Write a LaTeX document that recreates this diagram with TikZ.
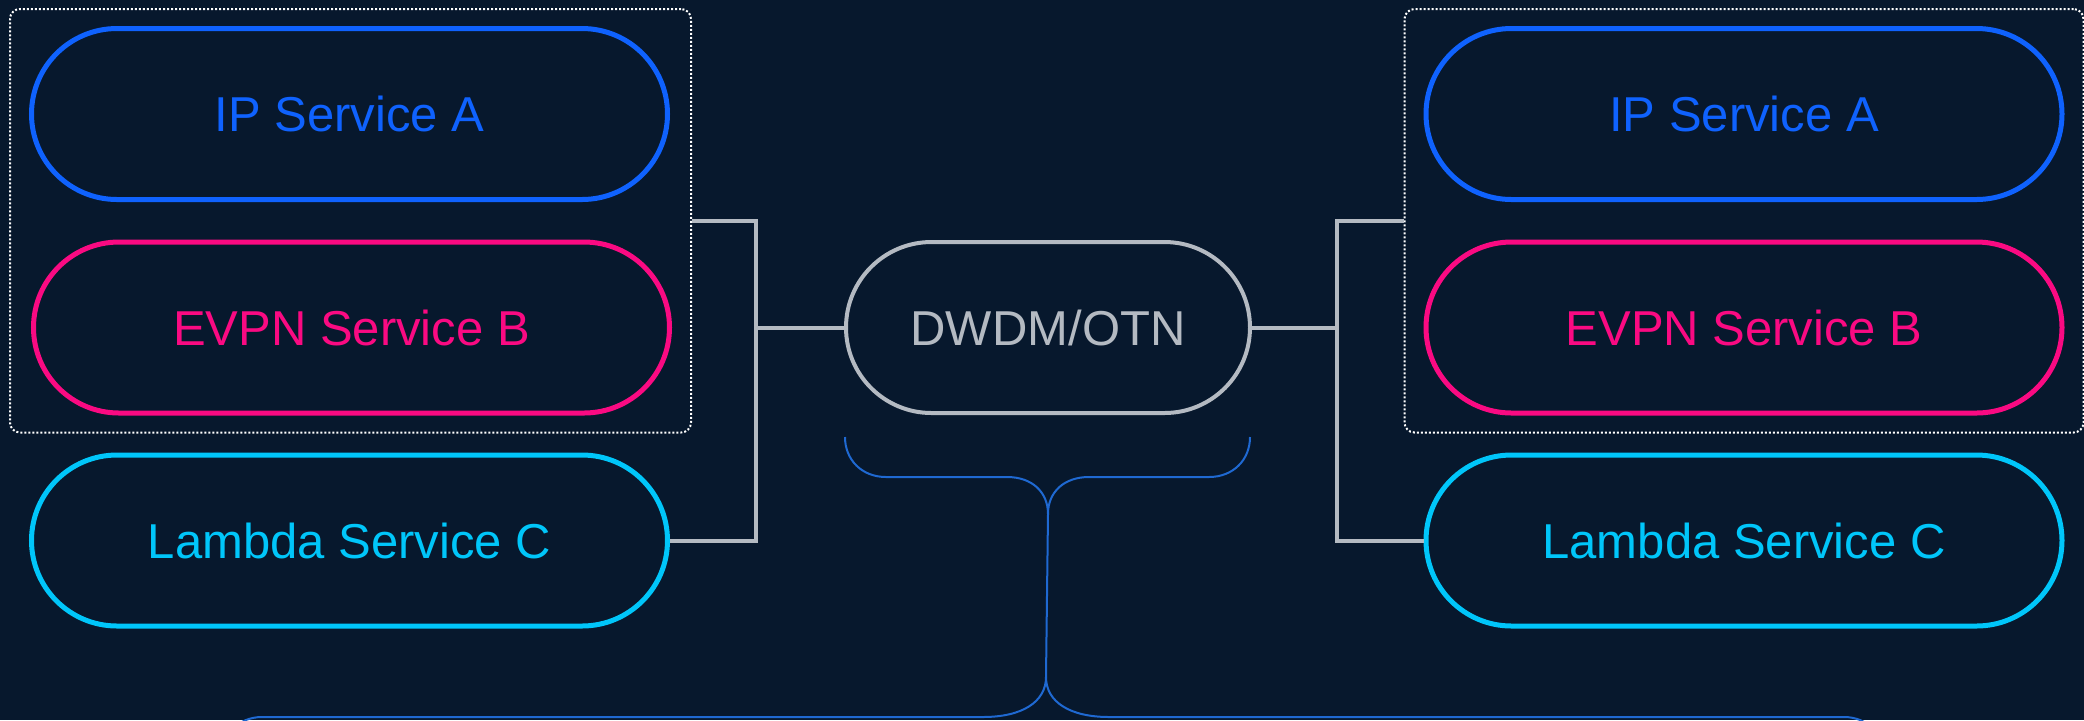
\documentclass[tikz,border=0pt]{standalone}
\usepackage{fontspec}
\setmainfont{Liberation Sans}
\usepackage{xcolor}
\usetikzlibrary{positioning, fit}

\definecolor{bgnavy}{HTML}{07182D}
\definecolor{ipblue}{HTML}{0F62FE}
\definecolor{evpnpink}{HTML}{FA0A82}
\definecolor{lambdacyan}{HTML}{00C6FA}
\definecolor{linkgray}{HTML}{B4BAC2}
\definecolor{bracketblue}{HTML}{1F69D2}

\tikzset{
    pill/.style={draw, line width=2.5pt, fill=bgnavy, rounded corners=42.75pt,
        minimum width=318pt, minimum height=85.5pt, inner sep=0pt,
        font=\fontsize{24.5}{29}\selectfont},
    grp/.style={draw=white, line width=1pt, dash pattern=on 1pt off 1pt,
        rounded corners=5pt, inner xsep=9.5pt, inner ysep=8.5pt},
    link/.style={draw=linkgray, line width=2pt},
    bracket/.style={draw=bracketblue, line width=1pt}
}

\begin{document}
\begin{tikzpicture}[x=0.5pt, y=-0.5pt]
    \clip (0,0) rectangle (2084,720);
    \fill[bgnavy] (0,0) rectangle (2084,720);

    % left side
    \begin{scope}
        \node[pill, draw=ipblue, text=ipblue] (lA) at (349.5,114) {IP Service A};
        \node[pill, draw=evpnpink, text=evpnpink] (lB) at (351.5,327.5) {EVPN Service B};
        \node[pill, draw=lambdacyan, text=lambdacyan] (lC) at (349.5,540.5) {Lambda Service C};
        \node[grp, fit=(lA)(lB)] (lgrp) {};
    \end{scope}

    % right side
    \begin{scope}
        \node[pill, draw=ipblue, text=ipblue] (rA) at (1744,114) {IP Service A};
        \node[pill, draw=evpnpink, text=evpnpink] (rB) at (1744,327.5) {EVPN Service B};
        \node[pill, draw=lambdacyan, text=lambdacyan] (rC) at (1744,540.5) {Lambda Service C};
        \node[grp, fit=(rA)(rB)] (rgrp) {};
    \end{scope}

    % transport
    \node[pill, draw=linkgray, text=linkgray, line width=2pt, minimum width=202pt] (dwdm) at (1048,327.5) {DWDM/OTN};

    \coordinate (lj) at (756,327.5);
    \coordinate (rj) at (1337,327.5);
    \draw[link] (lgrp.east) -| (lj) |- (lC.east);
    \draw[link] (lj) -- (dwdm.west);
    \draw[link] (rgrp.west) -| (rj) |- (rC.west);
    \draw[link] (rj) -- (dwdm.east);

    % brackets
    \coordinate (ttip) at (1048,514);
    \coordinate (btip) at (1046,677);
    \draw[bracket] (845,437) .. controls (845,460) and (862,477) .. (886,477) -- (1007,477)
        .. controls (1032,477) and (1048,492) .. (ttip);
    \draw[bracket] (1250,437) .. controls (1250,460) and (1233,477) .. (1209,477) -- (1089,477)
        .. controls (1064,477) and (1048,492) .. (ttip);
    \draw[bracket] (ttip) -- (btip);
    \draw[bracket] (221,760) .. controls (221,735) and (238,717) .. (262,717) -- (983,717)
        .. controls (1022,717) and (1046,702) .. (btip);
    \draw[bracket] (1885,760) .. controls (1885,735) and (1868,717) .. (1844,717) -- (1109,717)
        .. controls (1070,717) and (1046,702) .. (btip);
\end{tikzpicture}
\end{document}
